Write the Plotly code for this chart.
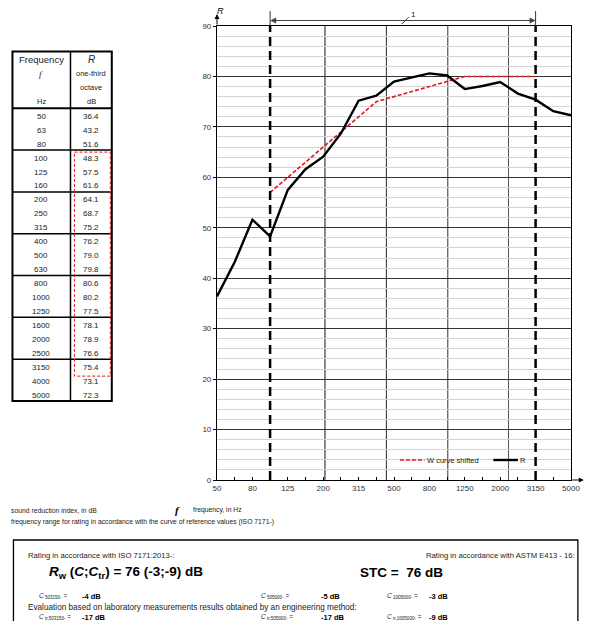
import plotly.graph_objects as go

# ---------------- data ----------------
freqs = ["50", "63", "80", "100", "125", "160", "200", "250", "315", "400", "500",
         "630", "800", "1000", "1250", "1600", "2000", "2500", "3150", "4000", "5000"]
R_values = [36.4, 43.2, 51.6, 48.3, 57.5, 61.6, 64.1, 68.7, 75.2, 76.2, 79.0,
            79.8, 80.6, 80.2, 77.5, 78.1, 78.9, 76.6, 75.4, 73.1, 72.3]
ref_freqs = ["100", "125", "160", "200", "250", "315", "400", "500", "630", "800",
             "1000", "1250", "1600", "2000", "2500", "3150"]
ref_shifted = [57, 60, 63, 66, 69, 72, 75, 76, 77, 78, 79, 80, 80, 80, 80, 80]
tick_labels = ["50", "80", "125", "200", "315", "500", "800", "1250", "2000", "3150", "5000"]
range_lo, range_hi = "100", "3150"

FONT = "Arial, Liberation Sans, sans-serif"

# pixel -> paper helpers (plot area 217..577 x 26..480)
L, RR, T, B = 217, 577, 26, 480
def PX(x):
    return (x - L) / (RR - L)
def PY(y):
    return (B - y) / (B - T)

xi = list(range(len(freqs)))
ref_x = [freqs.index(f) for f in ref_freqs]
px_per_idx = (RR - L) / (len(freqs) - 1)

fig = go.Figure()
fig.add_trace(go.Scatter(x=ref_x, y=ref_shifted, mode="lines",
                         line=dict(color="#e8141c", width=1.6, dash="4px,2px"),
                         name="W curve shifted", showlegend=False))
fig.add_trace(go.Scatter(x=xi, y=R_values, mode="lines",
                         line=dict(color="black", width=2.4),
                         name="R", showlegend=False))

shapes = []
annotations = []

# vertical grid lines (secondary grid from the source chart)
for gx, gc in zip([6.1, 9.57, 13.04, 16.47], ["#111", "#222", "#333", "#555"]):
    shapes.append(dict(type="line", xref="x", yref="paper", x0=gx, x1=gx, y0=0, y1=1,
                       line=dict(color=gc, width=1), layer="below"))

# rating range dashed boundaries
for f in (range_lo, range_hi):
    xv = freqs.index(f)
    shapes.append(dict(type="line", xref="x", yref="paper", x0=xv, x1=xv, y0=0, y1=1,
                       line=dict(color="black", width=2.5, dash="9px,5px")))
    shapes.append(dict(type="line", xref="x", yref="paper", x0=xv, x1=xv,
                       y0=PY(26), y1=PY(11), line=dict(color="#333", width=1)))

# range arrows
xlo, xhi = freqs.index(range_lo), freqs.index(range_hi)
xmid = (xlo + xhi) / 2
for xe in (xlo, xhi):
    annotations.append(dict(x=xe, y=PY(20.5), xref="x", yref="paper",
                            ax=(xmid - xe) * px_per_idx, ay=0, text="", showarrow=True,
                            arrowhead=2, arrowsize=1.2, arrowwidth=1, arrowcolor="#444"))
shapes.append(dict(type="line", xref="paper", yref="paper", x0=PX(405), x1=PX(412),
                   y0=PY(24), y1=PY(17), line=dict(color="#333", width=1)))
annotations.append(dict(x=PX(412), y=PY(14), xref="paper", yref="paper", text="1",
                        showarrow=False, xanchor="left", yanchor="middle",
                        font=dict(size=8, family=FONT, color="#222")))

# axis arrows
annotations.append(dict(x=0, y=PY(14), xref="paper", yref="paper", ax=0, ay=12,
                        text="", showarrow=True,
                        arrowhead=2, arrowsize=1, arrowwidth=1, arrowcolor="black"))
annotations.append(dict(x=PX(590), y=0, xref="paper", yref="paper", ax=-13, ay=0,
                        text="", showarrow=True,
                        arrowhead=2, arrowsize=1, arrowwidth=1, arrowcolor="black"))
annotations.append(dict(x=PX(215), y=PY(11), xref="paper", yref="paper", text="<i>R</i>",
                        showarrow=False, xanchor="left", yanchor="middle",
                        font=dict(size=9, family=FONT, color="black")))

# in-plot legend
shapes.append(dict(type="line", xref="paper", yref="paper", x0=PX(403), x1=PX(428),
                   y0=PY(460), y1=PY(460), line=dict(color="#e8141c", width=1.6, dash="4px,2px")))
annotations.append(dict(x=PX(429), y=PY(460), xref="paper", yref="paper", text="W curve shifted",
                        showarrow=False, xanchor="left", yanchor="middle",
                        font=dict(size=7.5, family=FONT, color="#222")))
shapes.append(dict(type="line", xref="paper", yref="paper", x0=PX(498), x1=PX(523),
                   y0=PY(460), y1=PY(460), line=dict(color="black", width=2.4)))
annotations.append(dict(x=PX(523), y=PY(460), xref="paper", yref="paper", text="R",
                        showarrow=False, xanchor="left", yanchor="middle",
                        font=dict(size=7.5, family=FONT, color="#222")))

# ---------------- table ----------------
tx0, txm, tx1 = 9, 68, 110
ty0, tyh, ty1 = 51.5, 108.3, 401
rowh = (ty1 - tyh) / len(freqs)
def rect(x0, y0, x1, y1, color="black", width=1, dash=None):
    d = dict(type="rect", xref="paper", yref="paper", x0=PX(x0), x1=PX(x1),
             y0=PY(y0), y1=PY(y1), line=dict(color=color, width=width))
    if dash:
        d["line"]["dash"] = dash
    return d
def hline(x0, x1, y, width=1, color="black"):
    return dict(type="line", xref="paper", yref="paper", x0=PX(x0), x1=PX(x1),
                y0=PY(y), y1=PY(y), line=dict(color=color, width=width))
def vline(x, y0, y1, width=1, color="black"):
    return dict(type="line", xref="paper", yref="paper", x0=PX(x), x1=PX(x),
                y0=PY(y0), y1=PY(y1), line=dict(color=color, width=width))

shapes.append(rect(tx0, ty0, tx1, ty1, width=2))
shapes.append(vline(txm, ty0, ty1, width=1.5))
shapes.append(hline(tx0, tx1, tyh, width=2))
for k in range(3, len(freqs), 3):
    shapes.append(hline(tx0, tx1, tyh + k * rowh, width=1.5))
ilo, ihi = freqs.index(range_lo), freqs.index(range_hi)
shapes.append(rect(72, tyh + ilo * rowh + 2, 108.5, tyh + (ihi + 1) * rowh + 3,
                   color="#e8141c", width=1, dash="3px,2px"))

cf = (tx0 + txm) / 2
cr = (txm + tx1) / 2
def txt(x, y, s, size=8, anchor="center", family=FONT, color="#222"):
    annotations.append(dict(x=PX(x), y=PY(y), xref="paper", yref="paper", text=s,
                            showarrow=False, xanchor=anchor, yanchor="middle",
                            borderpad=0, xshift=(-3 if anchor == "left" else 0),
                            font=dict(size=size, family=family, color=color)))

txt(cf, 59, "Frequency", size=9.5)
txt(cr, 59, "<i>R</i>", size=10)
txt(cf, 74, "<i>f</i>", size=9, family="Liberation Serif, serif")
txt(cr, 73, "one-third", size=7.5)
txt(cr, 87, "octave", size=7.5)
txt(cf, 101.5, "Hz", size=7.5)
txt(cr, 101.5, "dB", size=7.5)
for i, (f, r) in enumerate(zip(freqs, R_values)):
    yc = tyh + (i + 0.5) * rowh + 1
    txt(cf, yc, f, size=8)
    txt(cr, yc, f"{r:.1f}", size=8)

# ---------------- captions ----------------
txt(10, 510, "sound reduction index, in dB", size=6.8, anchor="left")
txt(176, 510, "<b><i>f</i></b>", size=11, anchor="left", family="Liberation Serif, serif", color="black")
txt(195, 510, "frequency, in Hz", size=6.8, anchor="left")
txt(10, 521.5, "frequency range for rating in accordance with the curve of reference values (ISO 7171-)",
    size=6.8, anchor="left")

# ---------------- results box ----------------
shapes.append(rect(10, 540, 584, 660, width=1.3))
txt(27, 555, "Rating in accordance with ISO 7171:2013-:", size=7.7, anchor="left")
annotations.append(dict(x=PX(582), y=PY(555), xref="paper", yref="paper",
                        text="Rating in accordance with ASTM E413 - 16:", showarrow=False,
                        xanchor="right", yanchor="middle", borderpad=0,
                        font=dict(size=7.7, family=FONT, color="#222")))
txt(48, 572, "<b><i>R</i><sub>w</sub> (<i>C</i>;<i>C</i><sub>tr</sub>) = 76 (-3;-9) dB</b>",
    size=13.5, anchor="left", color="black")
txt(364, 572, "<b>STC =  76 dB</b>", size=13.5, anchor="left", color="black")
txt(38, 596, "<i>C</i><sub> 503150-</sub> =", size=6.5, anchor="left")
txt(82, 596, "<b>-4 dB</b>", size=7.5, anchor="left", color="black")
txt(264, 596, "<i>C</i><sub> 505000-</sub> =", size=6.5, anchor="left")
txt(325, 596, "<b>-5 dB</b>", size=7.5, anchor="left", color="black")
txt(392, 596, "<i>C</i><sub> 1005000-</sub> =", size=6.5, anchor="left")
txt(435, 596, "<b>-3 dB</b>", size=7.5, anchor="left", color="black")
txt(27, 607.5, "Evaluation based on laboratory measurements results obtained by an engineering method:",
    size=8.2, anchor="left")
txt(38, 617, "<i>C</i><sub> tr,503150-</sub> =", size=6.5, anchor="left")
txt(82, 617, "<b>-17 dB</b>", size=7.5, anchor="left", color="black")
txt(264, 617, "<i>C</i><sub> tr,505000-</sub> =", size=6.5, anchor="left")
txt(325, 617, "<b>-17 dB</b>", size=7.5, anchor="left", color="black")
txt(392, 617, "<i>C</i><sub> tr,1005000-</sub> =", size=6.5, anchor="left")
txt(435, 617, "<b>-9 dB</b>", size=7.5, anchor="left", color="black")

tickvals = [freqs.index(t) for t in tick_labels]

fig.update_layout(
    width=592, height=621, autosize=False,
    margin=dict(l=L, r=592 - RR, t=T, b=621 - B, pad=0),
    paper_bgcolor="white", plot_bgcolor="white",
    font=dict(family=FONT, size=8, color="#333"),
    shapes=shapes, annotations=annotations,
    showlegend=False,
    xaxis=dict(range=[0, len(freqs) - 1], tickvals=tickvals, ticktext=tick_labels,
               showgrid=False, zeroline=False, showline=True, linecolor="black",
               linewidth=1.2, mirror=True, ticks="inside", ticklen=3, tickcolor="black",
               minor=dict(dtick=1, tick0=0, ticks="inside", ticklen=3, tickcolor="black",
                          showgrid=False),
               tickfont=dict(size=8, family=FONT, color="#333")),
    yaxis=dict(range=[0, 90], dtick=10, showgrid=True, gridcolor="#333", gridwidth=1,
               zeroline=False, showline=True, linecolor="black", linewidth=1.2,
               mirror=True, ticks="outside", ticklen=3, tickcolor="black",
               minor=dict(dtick=2, showgrid=True, gridcolor="#d4d4d4", gridwidth=1),
               tickfont=dict(size=8, family=FONT, color="#333")),
)

fig.write_html("out.html", config={"displayModeBar": False},
               post_script="document.body.style.margin='0';document.body.style.overflow='hidden';")
